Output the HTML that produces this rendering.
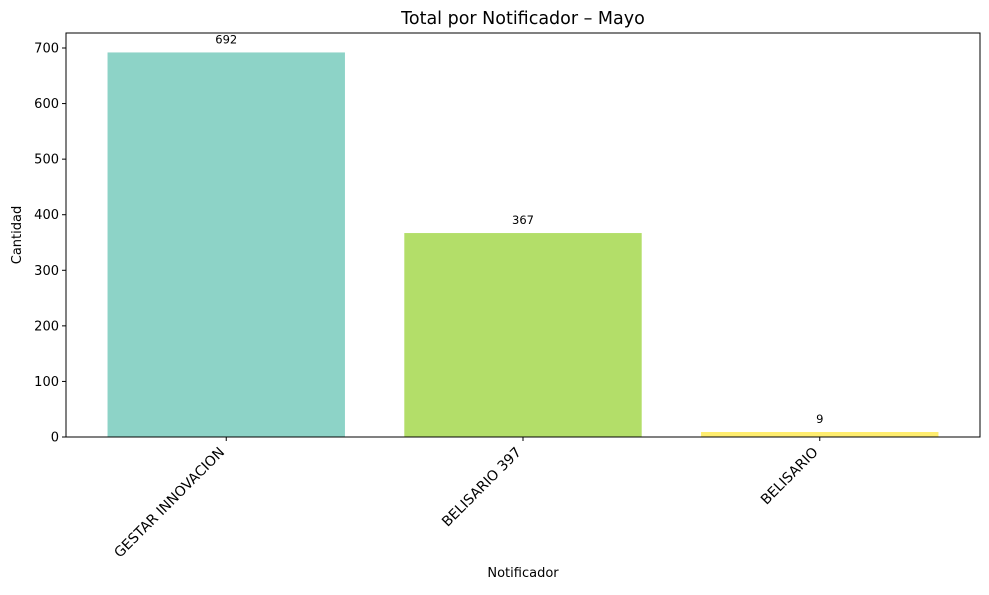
<!DOCTYPE html>
<html><head><meta charset="utf-8"><style>
body{margin:0;background:#fff;}
text{font-family:"DejaVu Sans","Liberation Sans",sans-serif;}
</style></head><body>
<svg id="c" width="989" height="590" xmlns="http://www.w3.org/2000/svg"></svg>
<script>
const categories = ["GESTAR INNOVACION","BELISARIO 397","BELISARIO"];
const values = [692,367,9];
const colors = ["#8dd3c7","#b3de69","#ffed6f"];
const yTicks = [0,100,200,300,400,500,600,700];

const L=66,R=980,T=33,B=437;
const xmin=-0.54,xmax=2.54;
const X=v=>L+(v-xmin)/(xmax-xmin)*(R-L);
const Y=v=>B-v*(437-48)/700;
const NS="http://www.w3.org/2000/svg";
const svg=document.getElementById('c');
function mk(tag,attrs,text){const e=document.createElementNS(NS,tag);for(const k in attrs)e.setAttribute(k,attrs[k]);if(text!==undefined)e.textContent=text;svg.appendChild(e);return e;}

const title=mk('text',{x:(L+R)/2,y:24,'text-anchor':'middle','font-size':17.5},'Total por Notificador – Mayo');



categories.forEach((c,i)=>{
  const x0=X(i-0.4),x1=X(i+0.4);
  const r=mk('rect',{x:x0,y:Y(values[i]),width:x1-x0,height:B-Y(values[i]),fill:colors[i]});
  
  
  const v=mk('text',{x:X(i),y:Y(values[i])-9,'text-anchor':'middle','font-size':11.5},String(values[i]));
  
  
  mk('line',{x1:X(i),x2:X(i),y1:B,y2:B+4,stroke:'#000','stroke-width':1});
  const t=mk('text',{x:0,y:0,'text-anchor':'end','font-size':14,transform:`translate(${X(i)-1},${B+16}) rotate(-45)`},c);
  
  
});

yTicks.forEach(v=>{
  mk('line',{x1:L-4,x2:L,y1:Y(v),y2:Y(v),stroke:'#000','stroke-width':1});
  const t=mk('text',{x:L-7,y:Y(v)+4.5,'text-anchor':'end','font-size':13},String(v));
  
  
});

const frame=mk('rect',{x:L,y:T,width:R-L,height:B-T,fill:'none',stroke:'#000','stroke-width':1});



const xt=mk('text',{x:(L+R)/2,y:577,'text-anchor':'middle','font-size':13},'Notificador');


const yt=mk('text',{x:0,y:0,'text-anchor':'middle','font-size':13,transform:`translate(21,${(T+B)/2}) rotate(-90)`},'Cantidad');


</script>
</body></html>
